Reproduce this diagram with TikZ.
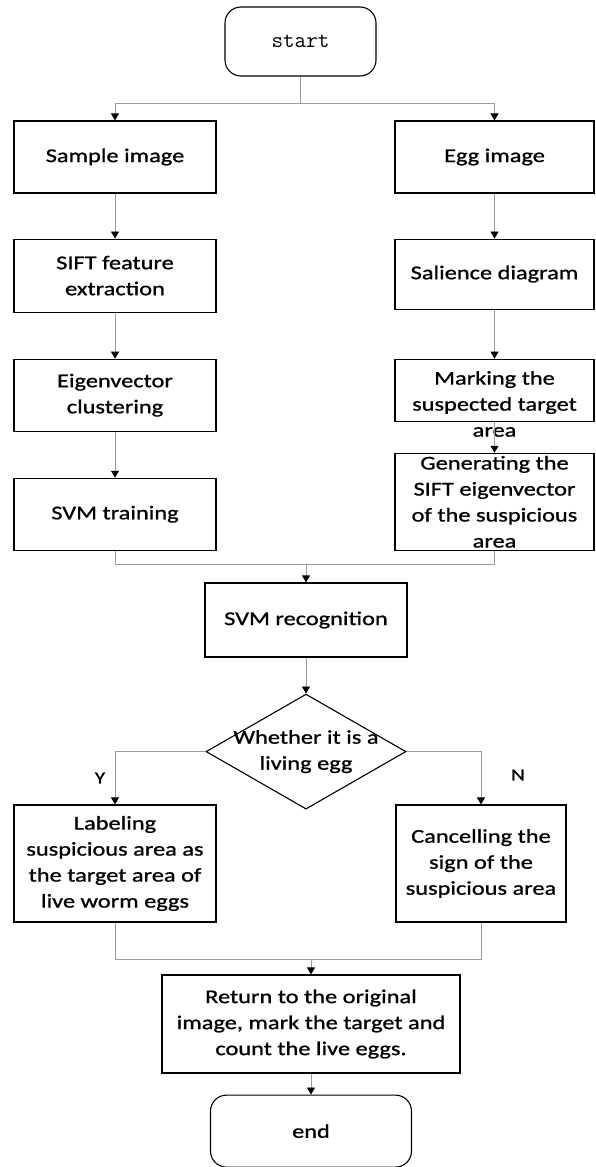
\documentclass[tikz,border=0pt]{standalone}
\usepackage{fontspec}
\setmainfont{Carlito}[FakeStretch=1.25, FakeBold=1]
\usepackage{tikz}
\usepackage{xcolor}
\definecolor{linegray}{RGB}{155,155,155}
\usetikzlibrary{arrows.meta, shapes.geometric, positioning}

\begin{document}
\begin{tikzpicture}[
          x=1pt, y=-1pt,
          box/.style={draw=black, line width=1.1pt, minimum width=202pt, minimum height=72pt,
              inner sep=0pt, align=center, font=\fontsize{19.5}{26}\selectfont},
          term/.style={box, rounded corners=16pt},
          decision/.style={diamond, draw=black, line width=1.1pt, aspect=1.74,
              minimum width=200pt, minimum height=115pt, inner sep=-14pt,
              align=center, font=\fontsize{19.5}{26}\selectfont},
          line/.style={linegray, line width=0.8pt},
          arr/.style={line, -{Triangle[length=7pt, width=8pt, color=black]}},
          tag/.style={font=\fontsize{17}{20}\selectfont}
        ]
        \useasboundingbox (0,0) rectangle (595,1167);
        \node[term, minimum width=151pt, minimum height=69pt,
              font=\ttfamily\fontsize{22.5}{26}\selectfont] (start) at (300.5,41.5) {start};
        % left column
        \node[box] (sample) at (115,157) {Sample image};
        \node[box, minimum height=73pt, below=45pt of sample] (sift) {SIFT feature\\extraction};
        \node[box, below=46pt of sift]   (eig)   {Eigenvector\\clustering};
        \node[box, below=46pt of eig]    (train) {SVM training};
        % right column
        \node[box, minimum width=199pt] (egg) at (494.5,157) {Egg image};
        \node[box, minimum width=199pt, minimum height=70pt, below=45pt of egg] (sal) {Salience diagram};
        \node[box, minimum width=199pt, minimum height=62pt, inner ysep=-16pt, below=49pt of sal]
        (mark) {\rule{0pt}{41pt}Marking the\\suspected target\\area};
        \node[box, minimum width=199pt, minimum height=97pt, below=31pt of mark]
        (gen) {Generating the\\SIFT eigenvector\\of the suspicious\\area};
        % middle
        \node[box, minimum height=74pt] (recog) at (306,620) {SVM recognition};
        \node[decision, below=36pt of recog] (dec) {Whether it is a\\living egg};
        \node[box, minimum height=117pt] (lab) at (115,863.5)
        {Labeling\\suspicious area as\\the target area of\\live worm eggs};
        \node[box, minimum width=170pt, minimum height=117pt] (canc) at (481,863.5)
        {Cancelling the\\sign of the\\suspicious area};
        \node[box, minimum width=298pt, minimum height=98pt] (ret) at (311,1024)
        {Return to the original\\image, mark the target and\\count the live eggs.};
        \node[term, minimum width=201pt, minimum height=72pt, below=21pt of ret] (fin) {end};
        \node[tag] (ylab) at (100,778) {Y};
        \node[tag] (nlab) at (518,775) {N};

        \coordinate (fork)   at (300.5,103);
        \coordinate (merge)  at (306,564);
        \coordinate (merge2) at (311,959);
        \draw[line] (start) -- (fork);
        \draw[arr] (fork) -| (sample);
        \draw[arr] (fork) -| (egg);
        \draw[arr] (sample) -- (sift);
        \draw[arr] (sift)   -- (eig);
        \draw[arr] (eig)    -- (train);
        \draw[arr] (egg)    -- (sal);
        \draw[arr] (sal)    -- (mark);
        \draw[arr] (mark)   -- (gen);
        \draw[line] (train) |- (merge);
        \draw[line] (gen)   |- (merge);
        \draw[arr] (merge) -- (recog);
        \draw[arr] (recog) -- (dec);
        \draw[arr] (dec.west) -| (lab);
        \draw[arr] (dec.east) -| (canc);
        \draw[line] (lab)  |- (merge2);
        \draw[line] (canc) |- (merge2);
        \draw[arr] (merge2) -- (ret);
        \draw[arr] (ret) -- (fin);
      \end{tikzpicture}
\end{document}
